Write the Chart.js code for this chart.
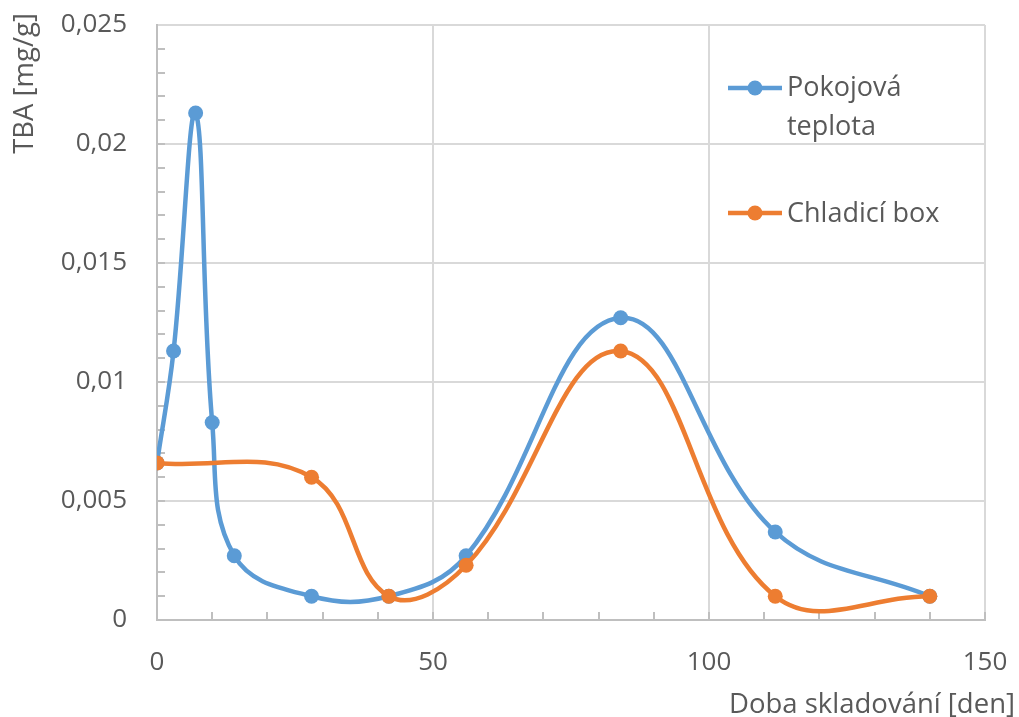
<!DOCTYPE html>
<html>
<head>
<meta charset="utf-8">
<script src="https://cdn.jsdelivr.net/npm/chart.js@4.4.0/dist/chart.umd.min.js"></script>
<style>
  body { margin: 0; background: #fff; }
</style>
</head>
<body>
<canvas id="graf" width="1019" height="717"></canvas>
<script>
// data
const days = [0, 3, 7, 10, 14, 28, 42, 56, 84, 112, 140];
const roomTemp = [0.0066, 0.0113, 0.0213, 0.0083, 0.0027, 0.001, 0.001, 0.0027, 0.0127, 0.0037, 0.001];
const boxDays = [0, 28, 42, 56, 84, 112, 140];
const coolBox = [0.0066, 0.006, 0.001, 0.0023, 0.0113, 0.001, 0.001];

const xTicks = [0, 50, 100, 150];
const yTicks = [0, 0.005, 0.01, 0.015, 0.02, 0.025];
const xTitle = 'Doba skladování [den]';
const yTitle = 'TBA [mg/g]';
const legendLabels = [['Pokojová', 'teplota'], ['Chladicí box']];

const blue = '#5b9bd5';
const orange = '#ed7d31';
const textColor = '#595959';
const font = "'Open Sans', sans-serif";

const points = (xs, ys) => xs.map((d, i) => ({x: d, y: ys[i]}));

const extras = {
    id: 'extras',
    beforeDatasetsDraw(chart) {
        const ctx = chart.ctx;
        const x = chart.scales.x, y = chart.scales.y;
        ctx.save();
        ctx.strokeStyle = '#bfbfbf';
        ctx.lineWidth = 2;
        ctx.beginPath();
        // minor ticks, pointing into the plot
        for (let i = 1; i < 25; i++) {
            const py = Math.round(y.getPixelForValue(i * 0.001));
            ctx.moveTo(x.left, py);
            ctx.lineTo(x.left + 8, py);
        }
        for (let i = 1; i <= 15; i++) {
            const px = Math.round(x.getPixelForValue(i * 10));
            ctx.moveTo(px, y.bottom);
            ctx.lineTo(px, y.bottom - 8);
        }
        ctx.stroke();
        ctx.restore();
    },
    afterDraw(chart) {
        const ctx = chart.ctx;
        ctx.save();
        ctx.fillStyle = textColor;
        ctx.font = '27.5px ' + font;

        // axis titles
        ctx.textAlign = 'right';
        ctx.textBaseline = 'alphabetic';
        ctx.fillText(xTitle, 1015, 713);
        ctx.save();
        ctx.translate(33, 13);
        ctx.rotate(-Math.PI / 2);
        ctx.fillText(yTitle, 0, 0);
        ctx.restore();

        // legend
        ctx.font = '27px ' + font;
        const rows = [
            {color: blue, lineY: 88, base: [96, 135], text: legendLabels[0]},
            {color: orange, lineY: 213, base: [222], text: legendLabels[1]}
        ];
        ctx.textAlign = 'left';
        rows.forEach(r => {
            ctx.strokeStyle = r.color;
            ctx.lineWidth = 4.5;
            ctx.beginPath();
            ctx.moveTo(728, r.lineY);
            ctx.lineTo(782, r.lineY);
            ctx.stroke();
            ctx.fillStyle = r.color;
            ctx.beginPath();
            ctx.arc(755, r.lineY, 7.5, 0, Math.PI * 2);
            ctx.fill();
            ctx.fillStyle = textColor;
            r.text.forEach((t, i) => ctx.fillText(t, 787, r.base[i]));
        });
        ctx.restore();
    }
};

const chart = new Chart(document.getElementById('graf'), {
    type: 'line',
    data: {
        datasets: [{
            label: legendLabels[0].join(' '),
            data: points(days, roomTemp),
            borderColor: blue,
            backgroundColor: blue,
            borderWidth: 4.5,
            pointRadius: 7.5,
            pointBorderWidth: 0,
            tension: 0.4,
            order: 1
        },
        {
            label: legendLabels[1].join(' '),
            data: points(boxDays, coolBox),
            borderColor: orange,
            backgroundColor: orange,
            borderWidth: 4.5,
            pointRadius: 7.5,
            pointBorderWidth: 0,
            tension: 0.4,
            order: 0
        }]
    },
    options: {
        responsive: false,
        animation: false,
        elements: {line: {capBezierPoints: false}},
        layout: {padding: {top: 25, right: 34, left: 0, bottom: 0}},
        plugins: {
            legend: {display: false},
            tooltip: {enabled: false}
        },
        scales: {
            x: {
                type: 'linear',
                min: 0,
                max: 150,
                afterBuildTicks: s => { s.ticks = xTicks.map(v => ({value: v})); },
                afterFit: s => {
                    s.height = 97;
                    s.paddingLeft = 0;
                    s.paddingRight = 0;
                },
                grid: {
                    color: c => c.tick && c.tick.value === 0 ? 'transparent' : '#d9d9d9',
                    lineWidth: 2,
                    drawTicks: false
                },
                border: {color: '#bfbfbf', width: 2},
                ticks: {
                    color: textColor,
                    font: {family: font, size: 26},
                    padding: 27,
                    maxRotation: 0
                }
            },
            y: {
                min: 0,
                max: 0.025,
                afterBuildTicks: s => { s.ticks = yTicks.map(v => ({value: v})); },
                afterFit: s => {
                    s.width = 157;
                    s.paddingTop = 0;
                    s.paddingBottom = 0;
                },
                grid: {
                    color: c => c.tick && c.tick.value === 0 ? 'transparent' : '#d9d9d9',
                    lineWidth: 2,
                    drawTicks: false
                },
                border: {color: '#bfbfbf', width: 2},
                ticks: {
                    color: textColor,
                    font: {family: font, size: 26},
                    padding: 30,
                    callback: v => String(Number(v.toFixed(3))).replace('.', ',')
                }
            }
        }
    },
    plugins: [extras]
});
</script>
</body>
</html>
